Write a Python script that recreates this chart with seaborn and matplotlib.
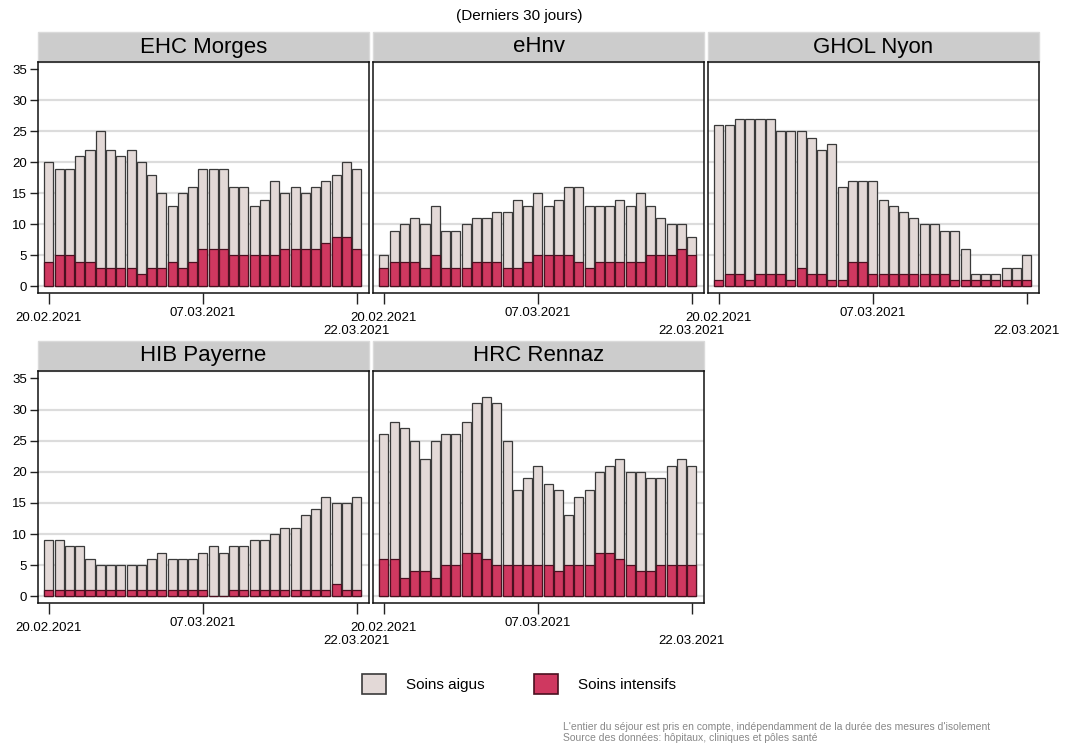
import pandas as pd
import matplotlib.pyplot as plt
import seaborn as sns
from matplotlib.patches import Patch, Rectangle

# data (daily counts, 20.02.2021 - 22.03.2021)
dates = pd.date_range("2021-02-20", "2021-03-22").strftime("%d.%m.%Y").tolist()

hospitals = ["EHC Morges", "eHnv", "GHOL Nyon", "HIB Payerne", "HRC Rennaz"]

# total patients (aigus + intensifs) per day
total_morges = [20, 19, 19, 21, 22, 25, 22, 21, 22, 20, 18, 15, 13, 15, 16, 19,
                19, 19, 16, 16, 13, 14, 17, 15, 16, 15, 16, 17, 18, 20, 19]
total_ehnv = [5, 9, 10, 11, 10, 13, 9, 9, 10, 11, 11, 12, 12, 14, 13, 15,
              13, 14, 16, 16, 13, 13, 13, 14, 13, 15, 13, 11, 10, 10, 8]
total_nyon = [26, 26, 27, 27, 27, 27, 25, 25, 25, 24, 22, 23, 16, 17, 17, 17,
              14, 13, 12, 11, 10, 10, 9, 9, 6, 2, 2, 2, 3, 3, 5]
total_payerne = [9, 9, 8, 8, 6, 5, 5, 5, 5, 5, 6, 7, 6, 6, 6, 7,
                 8, 7, 8, 8, 9, 9, 10, 11, 11, 13, 14, 16, 15, 15, 16]
total_rennaz = [26, 28, 27, 25, 22, 25, 26, 26, 28, 31, 32, 31, 25, 17, 19, 21,
                18, 17, 13, 16, 17, 20, 21, 22, 20, 20, 19, 19, 21, 22, 21]

# soins intensifs per day
si_morges = [4, 5, 5, 4, 4, 3, 3, 3, 3, 2, 3, 3, 4, 3, 4, 6,
             6, 6, 5, 5, 5, 5, 5, 6, 6, 6, 6, 7, 8, 8, 6]
si_ehnv = [3, 4, 4, 4, 3, 5, 3, 3, 3, 4, 4, 4, 3, 3, 4, 5,
           5, 5, 5, 4, 3, 4, 4, 4, 4, 4, 5, 5, 5, 6, 5]
si_nyon = [1, 2, 2, 1, 2, 2, 2, 1, 3, 2, 2, 1, 1, 4, 4, 2,
           2, 2, 2, 2, 2, 2, 2, 1, 1, 1, 1, 1, 1, 1, 1]
si_payerne = [1, 1, 1, 1, 1, 1, 1, 1, 1, 1, 1, 1, 1, 1, 1, 1,
              0, 0, 1, 1, 1, 1, 1, 1, 1, 1, 1, 1, 2, 1, 1]
si_rennaz = [6, 6, 3, 4, 4, 3, 5, 5, 7, 7, 6, 5, 5, 5, 5, 5,
             5, 4, 5, 5, 5, 7, 7, 6, 5, 4, 4, 5, 5, 5, 5]

totals = [total_morges, total_ehnv, total_nyon, total_payerne, total_rennaz]
intensifs = [si_morges, si_ehnv, si_nyon, si_payerne, si_rennaz]

tick_idx = [0, 15, 30]
tick_labels = ["20.02.2021", "07.03.2021", "22.03.2021"]

COL_AIGUS = "#e3d9d7"
EDGE_AIGUS = "#3a3a3a"
COL_SI = "#cf3860"
EDGE_SI = "#4a1020"

W, H = 1065, 746


def make_axes(fig, x0, x1, y0, y1):
    return fig.add_axes([x0 / W, 1 - y1 / H, (x1 - x0) / W, (y1 - y0) / H])


def draw_panel(ax, name, total, si, first_col):
    df = pd.DataFrame({"date": dates, "total": total, "si": si})
    for v in range(0, 35, 5):
        ax.axhline(v, color="#dcdcdc", lw=1.6, zorder=0)
    sns.barplot(data=df, x="date", y="total", ax=ax, color=COL_AIGUS, saturation=1,
                edgecolor=EDGE_AIGUS, linewidth=0.9, width=0.88, zorder=2)
    sns.barplot(data=df, x="date", y="si", ax=ax, color=COL_SI, saturation=1,
                edgecolor=EDGE_SI, linewidth=0.9, width=0.88, zorder=3)
    ax.set_xlim(-1.07, 31.2)
    ax.set_ylim(-1.08, 36.2)
    ax.set_xlabel("")
    ax.set_ylabel("")
    ax.set_xticks(tick_idx)
    ax.set_xticklabels(tick_labels, fontsize=9.5)
    ax.tick_params(axis="x", bottom=True, length=8, width=1, pad=2,
                   color="#222222", labelcolor="black")
    ticks = ax.xaxis.get_major_ticks()
    ticks[0].label1.set_y(-0.022)
    ticks[2].label1.set_y(-0.078)
    if first_col:
        ax.set_yticks(range(0, 40, 5))
        ax.tick_params(axis="y", left=True, length=6, width=1, pad=2, labelsize=9.5,
                       color="#222222", labelcolor="black")
    else:
        ax.set_yticks([])
    for s in ax.spines.values():
        s.set_visible(True)
        s.set_color("#111111")
        s.set_linewidth(1.1)
    # grey strip with the hospital name
    ax.add_patch(Rectangle((0, 1), 1, 30 / 231, transform=ax.transAxes, clip_on=False,
                           facecolor="#cccccc", edgecolor="#dadada", lw=1))
    ax.text(0.5, 1 + 15 / 231, name, transform=ax.transAxes, ha="center", va="center",
            fontsize=16, color="black")


def main():
    sns.set_style("white")
    plt.rcParams["font.family"] = ["Liberation Sans", "DejaVu Sans"]
    plt.rcParams["text.color"] = "black"

    fig = plt.figure(figsize=(W / 100, H / 100), dpi=100)
    cols = [(38, 369), (373, 704), (708, 1039)]
    rows = [(62, 293), (371, 603)]

    for i, name in enumerate(hospitals):
        r, c = divmod(i, 3)
        ax = make_axes(fig, cols[c][0], cols[c][1], rows[r][0], rows[r][1])
        draw_panel(ax, name, totals[i], intensifs[i], c == 0)

    fig.text(519 / W, 1 - 16 / H, "(Derniers 30 jours)", ha="center", va="center", fontsize=11)

    handles = [Patch(facecolor=COL_AIGUS, edgecolor=EDGE_AIGUS, lw=1.2, label="Soins aigus"),
               Patch(facecolor=COL_SI, edgecolor=EDGE_SI, lw=1.2, label="Soins intensifs")]
    fig.legend(handles=handles, loc="center", bbox_to_anchor=(519 / W, 1 - 684 / H), ncol=2,
               frameon=False, fontsize=11, handlelength=1.6, handleheight=1.6,
               handletextpad=1.3, columnspacing=3.2)

    fig.text(563 / W, 1 - 727 / H,
             "L'entier du séjour est pris en compte, indépendamment de la durée des mesures d'isolement",
             ha="left", va="center", fontsize=7.5, color="#888888")
    fig.text(563 / W, 1 - 738 / H, "Source des données: hôpitaux, cliniques et pôles santé",
             ha="left", va="center", fontsize=7.5, color="#888888")

    fig.savefig("out.png", dpi=100)


if __name__ == "__main__":
    main()
